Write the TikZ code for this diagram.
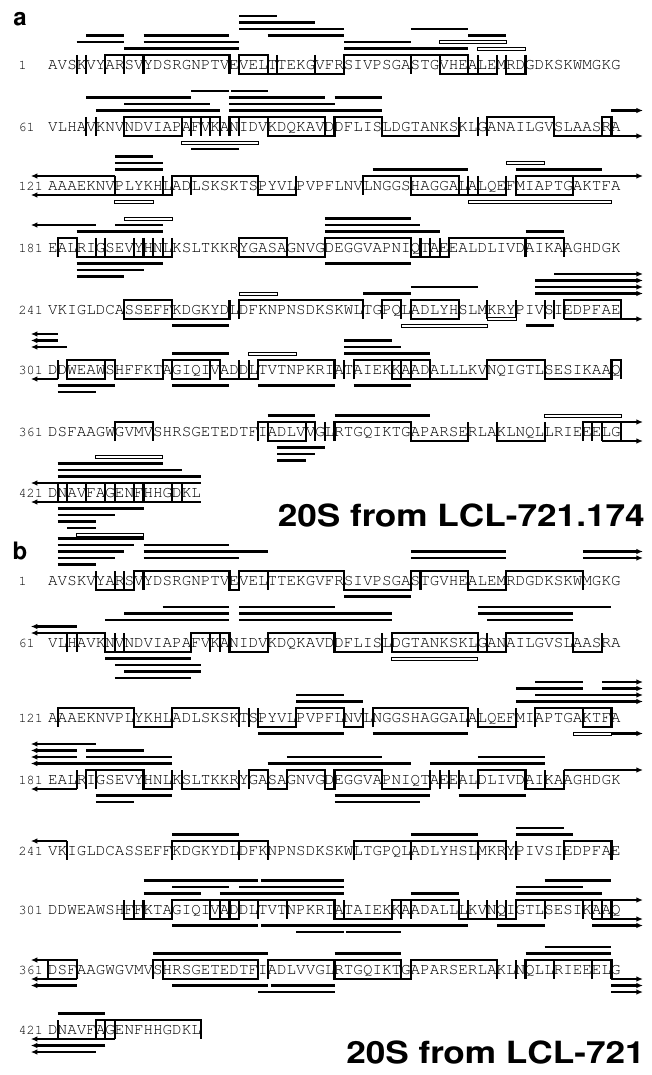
\documentclass[tikz,border=0pt]{standalone}
\usepackage[T1,TU]{fontenc}
\usetikzlibrary{arrows.meta}
\newcommand\seqfont{\fontencoding{T1}\fontfamily{pcr}\fontseries{m}\fontshape{n}\fontsize{15.9}{16}\selectfont}
\newcommand\numfont{\fontencoding{T1}\fontfamily{pcr}\fontseries{m}\fontshape{n}\fontsize{13.5}{14}\selectfont}
\newcommand\ttlfont{\fontencoding{T1}\fontfamily{phv}\fontseries{b}\fontshape{n}\fontsize{30.6}{32}\selectfont}
\newcommand\levy[1]{\pgfmathsetmacro\yy{ifthenelse(#1>-0.5,-10-6.5*(#1),9-6.5*((#1)+1))}}
\newcommand\cuts[1]{\foreach \k in {#1}{\draw[brk] (\k,-10)--(\k,9);}}
\newcommand\topbr[1]{\foreach \p/\q in {#1}{\draw[brk] (\p,9)--(\p,-10)--(\q,-10)--(\q,9);}}
\newcommand\botbr[1]{\foreach \p/\q in {#1}{\draw[brk] (\p,-10)--(\p,9)--(\q,9)--(\q,-10);}}
\newcommand\pepline[2]{\levy{#1}\foreach \p/\q in {#2}{\draw[pep] (\p,\yy)--(\q,\yy);}}
\newcommand\openpep[2]{\levy{#1}\foreach \p/\q in {#2}{\draw[opep] (\p,\yy-1.5) rectangle (\q,\yy+1.5);}}
\newcommand\pepright[2]{\levy{#1}\foreach \p in {#2}{\draw[arr] (\p,\yy)--(62.3,\yy);}}
\newcommand\pepleft[2]{\levy{#1}\foreach \p in {#2}{\draw[arr] (\p,\yy)--(-1.8,\yy);}}
\begin{document}
\begin{tikzpicture}[x=1pt,y=-1pt,
  seq/.style={font=\seqfont,inner sep=0pt,anchor=base west},
  num/.style={font=\numfont,inner sep=0pt,anchor=base west},
  lab/.style={font=\fontencoding{T1}\fontfamily{phv}\fontseries{b}\fontsize{24}{26}\selectfont,inner sep=0pt},
  ttl/.style={font=\ttlfont,inner sep=0pt,anchor=east},
  brk/.style={line width=2.1pt,line join=miter},
  pep/.style={line width=2.9pt},
  opep/.style={draw,fill=white,line width=0.9pt},
  arr/.style={pep,-{Latex[length=6.5pt,width=5.5pt]}}]
  \fill[white] (0,0) rectangle (651,1075);
  \useasboundingbox (0,0) rectangle (651,1075);
  \node[lab] (la) at (20,19) {a};
  \node[lab] (lb) at (20,551) {b};
  \node[ttl] (ta) at (645,516) {\scalebox{1.15}[1]{20S from LCL-721.174}};
  \node[ttl] (tb) at (645,1053) {\scalebox{1.15}[1]{20S from LCL-721}};
  % panel a
  \begin{scope}[shift={(48,65)},x=9.55pt]
    \node[num] (na1) at (-3.1,4.5) {1};
    \node[seq] (sa1) at (0,4.5) {AVSKVYARSVYDSRGNPTVEVELTTEKGVFRSIVPSGASTGVHEALEMRDGDKSKWMGKG};
    \cuts{3,4,6,8,10,19,20,23,24,28,31,38,41,44,45,47,48,50}
    \topbr{6/19,20/23,31/44}
    \botbr{20/31,41/47,48/50}
    \pepline{1}{8/20,31/44}
    \openpep{1}{45/50}
    \pepline{2}{3/8,10/20,31/38}
    \openpep{2}{41/48}
    \pepline{3}{4/8,10/19,23/31,44/48}
    \pepline{4}{20/31,38/44}
    \pepline{5}{20/28}
    \pepline{6}{20/24}
  \end{scope}
  \begin{scope}[shift={(48,127)},x=9.55pt]
    \node[num] (na61) at (-3.1,4.5) {61};
    \node[seq] (sa61) at (0,4.5) {VLHAVKNVNDVIAPAFVKANIDVKDQKAVDDFLISLDGTANKSKLGANAILGVSLAASRA};
    \cuts{4,5,8,14,15,16,17,18,19,20,23,29,30,35,43,45,46,53,58,59}
    \topbr{8/18,19/29,30/35,46/53,58/59}
    \botbr{8/14,23/30,35/43,53/58}
    \pepline{1}{5/18,19/35}
    \pepline{2}{8/17,19/30}
    \pepline{3}{4/15,19/29,30/35}
    \pepline{4}{15/19,19.2/23}
    \pepright{1}{59}
    \pepright{-1}{58}
    \openpep{-2}{14/22}
    \pepline{-3}{15/20}
  \end{scope}
  \begin{scope}[shift={(48,186)},x=9.55pt]
    \node[num] (na121) at (-3.1,4.5) {121};
    \node[seq] (sa121) at (0,4.5) {AAAEKNVPLYKHLADLSKSKTSPYVLPVPFLNVLNGGSHAGGALALQEFMIAPTGAKTFA};
    \cuts{7,12,13,15,22,26,33,38,43,44,45,48,49,55}
    \topbr{13/22,33/38,38/43,49/55}
    \botbr{7/13,22/26,38/43,43/48,49/55}
    \pepleft{0}{7}
    \pepleft{-1}{7}
    \pepright{0}{55}
    \pepline{1}{7/12,34/44,49/58}
    \pepline{2}{7/12}
    \openpep{2}{48/52}
    \pepline{3}{7/11}
    \openpep{-2}{7/11,44/59}
  \end{scope}
  \begin{scope}[shift={(48,248)},x=9.55pt]
    \node[num] (na181) at (-3.1,4.5) {181};
    \node[seq] (sa181) at (0,4.5) {EALRIGSEVYHNLKSLTKKRYGASAGNVGDEGGVAPNIQTAEEALDLIVDAIKAAGHDGK};
    \cuts{1,3,5,6,9,10,11,12,13,20,25,29,38,39,40,41,42,50,54}
    \topbr{1/3,20/25,29/38,42/50,50/54}
    \botbr{3/13,20/29,38/42}
    \pepline{1}{3/12,29/41,50/54}
    \pepline{2}{7/12,29/39}
    \pepleft{2}{5}
    \openpep{3}{8/13}
    \pepline{3}{29/38}
    \pepline{-2}{3/12,29/38}
    \pepline{-3}{3/10}
    \pepline{-4}{3/8}
  \end{scope}
  \begin{scope}[shift={(48,310)},x=9.55pt]
    \node[num] (na241) at (-3.1,4.5) {241};
    \node[seq] (sa241) at (0,4.5) {VKIGLDCASSEFFKDGKYDLDFKNPNSDKSKWLTGPQLADLYHSLMKRYPIVSIEDPFAE};
    \cuts{8,13,19,20,33,35,37,38,43,46,49,52,53,54}
    \topbr{8/13,20/33,35/37,38/43,54/60}
    \botbr{8/13,13/19,38/43}
    \openpep{1}{20/24}
    \pepline{1}{33/38}
    \pepline{2}{38/45}
    \pepright{1}{51}
    \pepright{2}{51}
    \pepright{3}{51}
    \pepright{4}{53}
    \pepline{-2}{13/19,50/53}
    \openpep{-2}{37/46}
    \openpep{-1}{46/49}
    \pepright{-1}{54}
  \end{scope}
  \begin{scope}[shift={(48,370)},x=9.55pt]
    \node[num] (na301) at (-3.1,4.5) {301};
    \node[seq] (sa301) at (0,4.5) {DDWEAWSHFFKTAGIQIVADDLTVTNPKRIATAIEKKAADALLLKVNQIGTLSESIKAAQ};
    \cuts{1,2,6,7,12,13,17,18,20,21,22,30,31,32,36,37,38,40,46,52,59}
    \topbr{2/7,12/18,22/30,32/40,46/52,59/60}
    \botbr{2/6,7/12,13/17,18/22,36/40,40/46,52/59}
    \pepleft{2}{2}
    \pepleft{3}{1}
    \pepleft{4}{1}
    \pepleft{-1}{1}
    \pepline{1}{13/19,31/40}
    \openpep{1}{21/26}
    \pepline{2}{31/37}
    \pepline{3}{31/36}
    \pepline{-2}{1/7,13/19,22/30,32/38}
    \pepline{-3}{1/5}
  \end{scope}
  \begin{scope}[shift={(48,432)},x=9.55pt]
    \node[num] (na361) at (-3.1,4.5) {361};
    \node[seq] (sa361) at (0,4.5) {DSFAAGWGVMVSHRSGETEDTFIADLVVGLRTGQIKTGAPARSERLAKLNQLLRIEEELG};
    \cuts{7,11,22,23,27,28,29,30,38,44,47,52,56,57,58}
    \topbr{7/11,22/28,30/38,56/60}
    \botbr{23/27,38/44,47/52}
    \pepline{1}{23/28,30/40}
    \openpep{1}{52/60}
    \pepright{0}{60}
    \pepright{-1}{58}
    \pepline{-2}{24/29}
    \pepline{-3}{24/28}
    \pepline{-4}{24/27}
  \end{scope}
  \begin{scope}[shift={(48,493)},x=9.55pt]
    \node[num] (na421) at (-3.1,4.5) {421};
    \node[seq] (sa421) at (0,4.5) {DNAVFAGENFHHGDKL};
    \cuts{1,2,4,6,7,9,10,13,14}
    \pepleft{0}{16}
    \pepleft{-1}{16}
    \pepline{1}{1/16}
    \pepline{2}{1/14}
    \pepline{3}{1/12}
    \openpep{4}{5/12}
    \pepline{-2}{1/10}
    \pepline{-3}{1/7}
    \pepline{-4}{1/5}
    \pepline{-5}{2/5}
    \openpep{-6}{3/10}
  \end{scope}
  % panel b
  \begin{scope}[shift={(48,581)},x=9.55pt]
    \node[num] (nb1) at (-3.1,4.5) {1};
    \node[seq] (sb1) at (0,4.5) {AVSKVYARSVYDSRGNPTVEVELTTEKGVFRSIVPSGASTGVHEALEMRDGDKSKWMGKG};
    \cuts{5,7,8,9,10,19,20,23,31,38,39,44,48,56}
    \topbr{9/19,20/23,23/31,38/44,48/56}
    \botbr{5/9,19/20,31/38,44/48}
    \pepline{1}{1/5}
    \pepline{2}{1/7,10/20,38/48}
    \pepline{3}{1/8,10/23,38/48}
    \pepline{4}{1/9,10/19}
    \pepline{5}{1/10}
    \pepright{2}{56}
    \pepright{3}{56}
    \pepline{-2}{31/38}
  \end{scope}
  \begin{scope}[shift={(48,643)},x=9.55pt]
    \node[num] (nb61) at (-3.1,4.5) {61};
    \node[seq] (sb61) at (0,4.5) {VLHAVKNVNDVIAPAFVKANIDVKDQKAVDDFLISLDGTANKSKLGANAILGVSLAASRA};
    \cuts{2,3,6,7,8,15,17,18,19,23,30,35,36,45,46,48,55,58}
    \topbr{2/6,15/19,23/30,36/45,48/55}
    \botbr{6/8,8/15,19/23,30/35,36/45,45/48,55/58}
    \pepleft{0}{2}
    \pepleft{1}{3}
    \pepline{2}{6/19,20/36,46/55}
    \pepline{3}{8/19,20/36,45/55}
    \pepline{4}{12/19,20/30,45/59}
    \pepline{-2}{6/15}
    \openpep{-2}{36/45}
    \pepline{-3}{7/16}
    \pepline{-4}{8/16}
    \pepline{-5}{7/15}
  \end{scope}
  \begin{scope}[shift={(48,718)},x=9.55pt]
    \node[num] (nb121) at (-3.1,4.5) {121};
    \node[seq] (sb121) at (0,4.5) {AAAEKNVPLYKHLADLSKSKTSPYVLPVPFLNVLNGGSHAGGALALQEFMIAPTGAKTFA};
    \cuts{1,9,13,20,21,22,26,31,33,34,44,45,49,51,56,59}
    \topbr{1/9,13/20,26/31,34/44,51/56,56/59}
    \botbr{9/13,22/26,31/33,45/49,56/59}
    \pepline{1}{26/33}
    \pepright{1}{49}
    \pepline{2}{26/31}
    \pepright{2}{51}
    \pepline{3}{49/56}
    \pepright{3}{58}
    \pepline{4}{51/56}
    \pepright{4}{58}
    \pepline{-2}{22/31,34/44}
    \openpep{-2}{55/59}
    \pepright{-2}{59}
  \end{scope}
  \begin{scope}[shift={(48,780)},x=9.55pt]
    \node[num] (nb181) at (-3.1,4.5) {181};
    \node[seq] (sb181) at (0,4.5) {EALRIGSEVYHNLKSLTKKRYGASAGNVGDEGGVAPNIQTAEEALDLIVDAIKAAGHDGK};
    \cuts{3,4,5,10,13,14,20,21,23,25,29,30,35,40,41,42,43,45,50,52,54}
    \topbr{4/10,21/23,25/29,30/35,45/50}
    \botbr{10/13,14/20,23/25,29/30,35/40,50/52,52/54}
    \pepright{0}{54}
    \pepleft{1}{13}
    \pepline{1}{23/38,40/52}
    \pepleft{2}{3}
    \pepline{2}{4/13,25/35,45/52}
    \pepleft{3}{3}
    \pepline{3}{4/10}
    \pepleft{4}{5}
    \pepleft{-1}{3}
    \pepline{-2}{5/13,30/40,43/50}
    \pepline{-3}{5/9,30/39}
  \end{scope}
  \begin{scope}[shift={(48,851)},x=9.55pt]
    \node[num] (nb241) at (-3.1,4.5) {241};
    \node[seq] (sb241) at (0,4.5) {VKIGLDCASSEFFKDGKYDLDFKNPNSDKSKWLTGPQLADLYHSLMKRYPIVSIEDPFAE};
    \cuts{2,13,20,23,32,38,45,48,49,54,59}
    \topbr{13/20,20/23,32/38,38/45,45/48,54/59}
    \pepleft{0}{2}
    \pepline{1}{13/20,38/45,49/55}
    \pepline{2}{49/54}
  \end{scope}
  \begin{scope}[shift={(48,910)},x=9.55pt]
    \node[num] (nb301) at (-3.1,4.5) {301};
    \node[seq] (sb301) at (0,4.5) {DDWEAWSHFFKTAGIQIVADDLTVTNPKRIATAIEKKAADALLLKVNQIGTLSESIKAAQ};
    \cuts{8,9,10,13,17,18,19,20,22,25,30,31,36,37,38,43,44,46,47,48,49,52,56,57,58,59}
    \topbr{13/22,22/30,36/43,49/52,52/59}
    \botbr{8/10,10/13,17/20,30/36,43/46,46/49}
    \pepline{1}{10/16,18/31,38/43,49/58}
    \pepline{2}{13/19,20/31,49/56}
    \pepline{3}{10/22,22.3/31,52/59}
    \pepright{0}{59}
    \pepright{-1}{57}
    \pepright{-2}{57}
    \pepline{-2}{13/22,22.3/44,47/52}
    \pepline{-3}{26/31,31.2/37}
  \end{scope}
  \begin{scope}[shift={(48,970)},x=9.55pt]
    \node[num] (nb361) at (-3.1,4.5) {361};
    \node[seq] (sb361) at (0,4.5) {DSFAAGWGVMVSHRSGETEDTFIADLVVGLRTGQIKTGAPARSERLAKLNQLLRIEEELG};
    \cuts{3,11,12,22,23,30,37,38,47,49,50,53,57,59}
    \topbr{0/3,11/22,23/30,30/37,38/47,50/57,57/59}
    \botbr{12/22,30/37,37/38}
    \pepleft{0}{0}
    \pepleft{-1}{3}
    \pepleft{-2}{3}
    \pepline{1}{11/23,30/37,50/59}
    \pepline{2}{52/59}
    \pepline{-2}{13/23,23.3/30}
    \pepline{-3}{22/30}
    \pepright{-1}{59}
    \pepright{-2}{59}
    \pepright{-3}{59}
  \end{scope}
  \begin{scope}[shift={(48,1030)},x=9.55pt]
    \node[num] (nb421) at (-3.1,4.5) {421};
    \node[seq] (sb421) at (0,4.5) {DNAVFAGENFHHGDKL};
    \cuts{1,5,6,7}
    \topbr{5/6,6/7,7/16}
    \pepline{1}{1/6}
    \pepleft{-1}{7}
    \pepleft{-2}{6}
    \pepleft{-3}{5}
  \end{scope}
\end{tikzpicture}
\end{document}
